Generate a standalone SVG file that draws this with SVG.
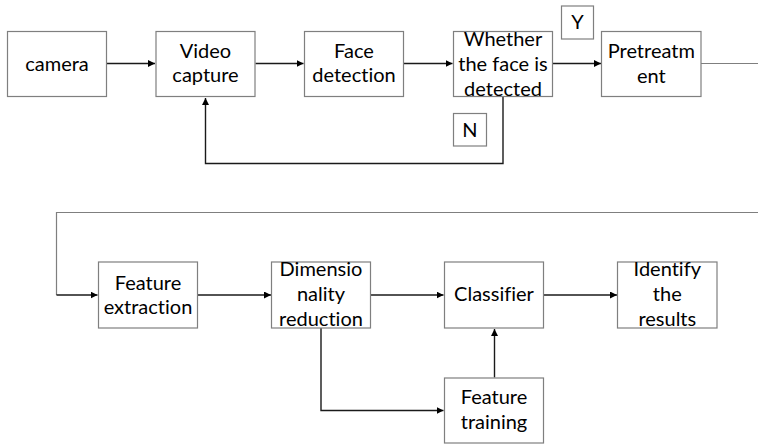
<svg xmlns="http://www.w3.org/2000/svg" width="758" height="444" viewBox="0 0 758 444">
  <defs>
    <marker id="arrow" viewBox="0 0 10 10" refX="10" refY="5" markerWidth="7" markerHeight="7" markerUnits="userSpaceOnUse" orient="auto">
      <path d="M0,0 L10,5 L0,10 z" fill="#000"/>
    </marker>
    <style>
      .box { fill: #fff; stroke: #7f7f7f; stroke-width: 1.2; }
      .lbl { font-family: Lato, "Liberation Sans", sans-serif; font-size: 20px; fill: #000; text-anchor: middle; font-variant-ligatures: none; }
      .conn { fill: none; stroke: #1a1a1a; stroke-width: 1.4; }
      .thin { fill: none; stroke: #7f7f7f; stroke-width: 1.2; }
    </style>
  </defs>
  <rect width="758" height="444" fill="#fff"/>

  <!-- connectors -->
  <g id="connectors">
    <path class="conn" d="M106.5,63.5 H155" marker-end="url(#arrow)"/>
    <path class="conn" d="M255.5,63.5 H303.5" marker-end="url(#arrow)"/>
    <path class="conn" d="M403.5,63.5 H452.5" marker-end="url(#arrow)"/>
    <path class="conn" d="M552.5,63.5 H601" marker-end="url(#arrow)"/>
    <path class="conn" d="M503,97 V163.5 H205.5 V98" marker-end="url(#arrow)"/>
    <path class="thin" d="M701,63.5 H758"/>
    <path class="thin" d="M758,212.5 H56.5 V295"/>
    <path class="conn" d="M56.5,295 H97.5" marker-end="url(#arrow)"/>
    <path class="conn" d="M197.5,295 H271" marker-end="url(#arrow)"/>
    <path class="conn" d="M370.5,295 H443.5" marker-end="url(#arrow)"/>
    <path class="conn" d="M543.5,295 H617" marker-end="url(#arrow)"/>
    <path class="conn" d="M321,328 V410.5 H443.5" marker-end="url(#arrow)"/>
    <path class="conn" d="M494.5,377.5 V329" marker-end="url(#arrow)"/>
  </g>

  <g id="camera">
    <rect class="box" x="7.5" y="31.5" width="99" height="65"/>
    <text class="lbl" x="57" y="70.5">camera</text>
  </g>
  <g id="video-capture">
    <rect class="box" x="156" y="31.5" width="99" height="65"/>
    <text class="lbl" x="205.5" y="58">Video</text>
    <text class="lbl" x="205.5" y="82">capture</text>
  </g>
  <g id="face-detection">
    <rect class="box" x="304.5" y="31.5" width="99" height="65"/>
    <text class="lbl" x="354" y="58">Face</text>
    <text class="lbl" x="354" y="82">detection</text>
  </g>
  <g id="face-detected">
    <rect class="box" x="453.5" y="31.5" width="99" height="65"/>
    <text class="lbl" x="503" y="45.5">Whether</text>
    <text class="lbl" x="503" y="70.5">the face is</text>
    <text class="lbl" x="503" y="95.5">detected</text>
  </g>
  <g id="label-y">
    <rect class="box" x="561.5" y="6" width="32" height="33"/>
    <text class="lbl" x="577.5" y="29">Y</text>
  </g>
  <g id="label-n">
    <rect class="box" x="453.5" y="113.5" width="33" height="32.5"/>
    <text class="lbl" x="470" y="136.5">N</text>
  </g>
  <g id="pretreatment">
    <rect class="box" x="601.5" y="31.5" width="99.5" height="65"/>
    <text class="lbl" x="651.3" y="58">Pretreatm</text>
    <text class="lbl" x="651.3" y="82.5">ent</text>
  </g>

  <g id="feature-extraction">
    <rect class="box" x="98.5" y="262" width="99" height="66"/>
    <text class="lbl" x="148" y="289.5">Feature</text>
    <text class="lbl" x="148" y="314">extraction</text>
  </g>
  <g id="dimensionality-reduction">
    <rect class="box" x="271.5" y="262" width="99" height="66"/>
    <text class="lbl" x="321" y="276">Dimensio</text>
    <text class="lbl" x="321" y="301">nality</text>
    <text class="lbl" x="321" y="326">reduction</text>
  </g>
  <g id="classifier">
    <rect class="box" x="444.5" y="262" width="99" height="66"/>
    <text class="lbl" x="494" y="301">Classifier</text>
  </g>
  <g id="identify-results">
    <rect class="box" x="617.5" y="262" width="99.5" height="66"/>
    <text class="lbl" x="667.3" y="276">Identify</text>
    <text class="lbl" x="667.3" y="301">the</text>
    <text class="lbl" x="667.3" y="326">results</text>
  </g>
  <g id="feature-training">
    <rect class="box" x="444.5" y="378" width="99" height="65"/>
    <text class="lbl" x="494" y="404">Feature</text>
    <text class="lbl" x="494" y="428.5">training</text>
  </g>
</svg>
